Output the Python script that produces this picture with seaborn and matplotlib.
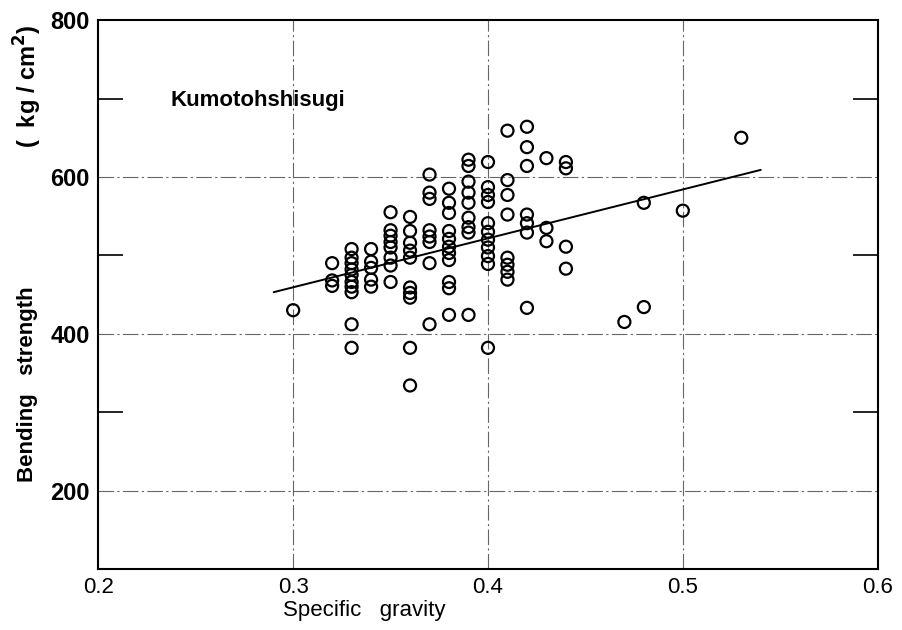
import numpy as np
import pandas as pd
import matplotlib
matplotlib.use("Agg")
import matplotlib.pyplot as plt
import seaborn as sns

gravity_cols = [0.30, 0.32, 0.33, 0.34, 0.35, 0.36, 0.37, 0.38, 0.39,
                0.40, 0.41, 0.42, 0.43, 0.44, 0.47, 0.48, 0.50, 0.53]
strength_cols = [
    [430],
    [490, 468, 461],
    [508, 497, 490, 482, 475, 466, 460, 453, 412, 382],
    [508, 492, 484, 469, 460],
    [555, 532, 525, 517, 510, 497, 487, 466],
    [549, 531, 516, 506, 497, 459, 452, 446, 382, 334],
    [603, 580, 572, 532, 524, 517, 490, 412],
    [585, 567, 554, 531, 521, 511, 503, 494, 466, 458, 424],
    [622, 614, 594, 580, 567, 548, 536, 529, 424],
    [619, 587, 577, 568, 541, 530, 520, 510, 499, 489, 382],
    [659, 596, 577, 552, 497, 488, 479, 469],
    [664, 638, 614, 552, 541, 529, 433],
    [624, 535, 518],
    [619, 611, 511, 483],
    [415],
    [567, 434],
    [557],
    [650],
]

# recta de regresion (extremos)
fit_x = [0.29, 0.54]
fit_y = [453, 609]

x_ticks = [0.2, 0.3, 0.4, 0.5, 0.6]
y_ticks = [200, 400, 600, 800]
y_minor = [300, 500, 700]

df = pd.DataFrame({
    "gravity": [g for g, col in zip(gravity_cols, strength_cols) for _ in col],
    "strength": [s for col in strength_cols for s in col],
})

sns.set_style("white")
plt.rcParams["font.family"] = ["Liberation Sans", "DejaVu Sans"]
plt.rcParams["text.color"] = "black"
plt.rcParams["axes.labelcolor"] = "black"
plt.rcParams["xtick.color"] = "black"
plt.rcParams["ytick.color"] = "black"

fig = plt.figure(figsize=(9.02, 6.3), dpi=100)
ax = fig.add_axes([0.109, 0.097, 0.864, 0.871])

# lineas de referencia
for g in [0.3, 0.4, 0.5]:
    ax.axvline(g, color="0.4", lw=0.8, ls=(0, (14, 3, 2, 3)), zorder=0)
for v in [200, 400, 600]:
    ax.axhline(v, color="0.4", lw=0.8, ls=(0, (14, 3, 2, 3)), zorder=0)

sns.lineplot(x=fit_x, y=fit_y, color="black", lw=1.4, ax=ax)
sns.scatterplot(data=df, x="gravity", y="strength", s=75, marker="o",
                facecolor="none", edgecolor="black", linewidth=1.6, ax=ax)

ax.set_xlim(0.2, 0.6)
ax.set_ylim(100, 800)
ax.set_xticks(x_ticks)
ax.set_xticklabels([str(t) for t in x_ticks], fontsize=16)
ax.set_yticks(y_ticks)
ax.set_yticklabels([str(t) for t in y_ticks], fontsize=17, fontweight="bold")
ax.set_yticks(y_minor, minor=True)
ax.tick_params(which="major", direction="out", length=4, width=1.2, pad=2)
ax.tick_params(which="minor", direction="in", length=18, width=1.2,
               left=True, right=True)

for sp in ax.spines.values():
    sp.set_color("black")
    sp.set_linewidth(1.5)

ax.set_xlabel("Specific   gravity", fontsize=16)
ax.xaxis.set_label_coords(0.237, -0.057)
ax.xaxis.label.set_horizontalalignment("left")

ax.set_ylabel("")
fig.text(0.031, 0.235, "Bending   strength", rotation=90, fontsize=16,
         fontweight="bold", ha="center", va="bottom")
fig.text(0.031, 0.962, "(  kg / cm$^\\mathbf{2}$)", rotation=90, fontsize=17,
         fontweight="bold", ha="center", va="top")

ax.text(0.237, 698, "Kumotohshisugi", fontsize=16, fontweight="bold",
        ha="left", va="center")

plt.savefig("out.png", dpi=100)
